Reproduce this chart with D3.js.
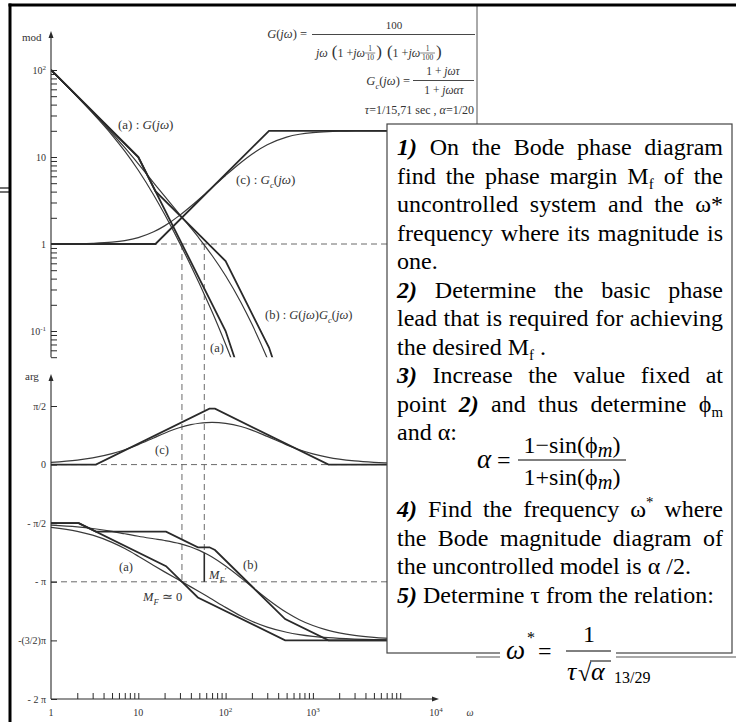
<!DOCTYPE html>
<html><head><meta charset="utf-8">
<script src="https://cdn.jsdelivr.net/npm/d3@7"></script>
<style>body{margin:0;background:#fff}svg{display:block}</style>
</head><body>
<svg id="c" width="736" height="722"></svg>
<script>
// ---------------- DATA ----------------
const omega = [1,2,3,5,7,10,15,20,30,40,50,60,70,100,150,200,300,500,700,1000,1500,2000,3000,5000,10000,25000];
const magG   = [99.5,49.03,31.93,17.89,11.67,7.036,3.657,2.193,1.010,0.563,0.351,0.235,0.166,0.0704,0.0246,0.0112,0.00351,null,null,null,null,null,null,null,null,null];
const magGc  = [1.002,1.008,1.018,1.049,1.095,1.185,1.381,1.616,2.146,2.714,3.295,3.878,4.457,6.140,8.666,10.77,13.83,16.94,18.25,19.08,19.58,19.76,19.89,19.97,19.99,20.0];
const magGGc = [99.7,49.42,32.5,18.76,12.78,8.338,5.05,3.544,2.167,1.528,1.156,0.911,0.738,0.432,0.213,0.120,0.0486,0.0133,0.00527,null,null,null,null,null,null,null];
const phG    = [-96.28,-102.46,-108.42,-119.43,-128.99,-140.71,-154.84,-164.74,-178.27,-187.76,-195.26,-201.5,-206.86,-219.29,-232.5,-240.57,-249.66,-257.54,-261.05,-263.72,-265.81,-266.85,-267.9,-268.74,-269.37,-269.75];
const phGc   = [3.46,6.89,10.26,16.75,22.75,30.66,40.95,48.21,56.91,61.3,63.52,64.52,64.79,63.41,58.5,53.03,43.32,30.35,22.88,16.54,11.23,8.48,5.68,3.42,1.71,0.69];
const phGGc  = [-92.82,-95.57,-98.16,-102.68,-106.24,-110.05,-113.89,-116.53,-121.36,-126.46,-131.74,-136.98,-142.07,-155.88,-174.0,-187.54,-206.34,-227.19,-238.17,-247.18,-254.58,-258.37,-262.22,-265.32,-267.66,-269.06];

// asymptotes (break points)
const asMagAw = [1,10,100,1000],              asMagA = [100,10,0.1,0.0001];
const asMagCw = [1,15.71,314.2,25000],        asMagC = [1,1,20,20];
const asMagBw = [1,10,15.71,100,314.2,1000],  asMagB = [100,10,4.052,0.6366,0.06448,0.002];
const asPhAw  = [1,2.079,20.79,48.1,481,25000], asPhA = [-90,-90,-155.96,-204.03,-270,-270];
const asPhCw  = [1,3.266,65.32,75.56,1511,25000], asPhC = [0,0,85.82,85.82,0,0];
const asPhBw  = [1,2.079,3.266,20.79,48.1,65.32,75.56,481,1511,25000];
const asPhB   = [-90,-90,-102.94,-102.94,-126.98,-126.98,-131.15,-237.21,-270,-270];

// crossover frequencies and margin point
const wCrossG = 31.62, wCrossB = 57, phAtCrossB = -135.4;

// tick labels
const xTickVals = [1,10,100,1000,10000];
const xTickBase = ["1","10","10","10","10"], xTickExp = ["","","2","3","4"];
const magTickVals = [0.1,1,10,100];
const magTickBase = ["10","1","10","10"], magTickExp = ["-1","","","2"];
const phTickVals = [90,0,-90,-180,-270,-360];
const phTickLabels = ["\u03c0/2","0","- \u03c0/2","- \u03c0","-(3/2)\u03c0","- 2 \u03c0"];

// ---------------- SCALES ----------------
const svg = d3.select("#c");
const x  = d3.scaleLog().domain([1,1e4]).range([51,400.2]);
const yM = d3.scaleLog().domain([0.1,100]).range([331,70]);
const yP = d3.scaleLinear().domain([-360,90]).range([699,406]);
const INK = "#2a2a2a", TXT = "#333";

svg.append("rect").attr("width",736).attr("height",722).attr("fill","#fff");

const defs = svg.append("defs");
defs.append("clipPath").attr("id","clipM").append("rect").attr("x",51).attr("y",28).attr("width",430).attr("height",329.3);
defs.append("clipPath").attr("id","clipP").append("rect").attr("x",51).attr("y",380).attr("width",430).attr("height",320);

const fig = svg.append("g");

// dashed reference lines
const dash = fig.append("g").attr("stroke","#6a6a6a").attr("stroke-width",1).attr("stroke-dasharray","6,4").attr("fill","none");
dash.append("line").attr("x1",51).attr("x2",480).attr("y1",yM(1)).attr("y2",yM(1));
dash.append("line").attr("x1",51).attr("x2",480).attr("y1",yP(0)).attr("y2",yP(0));
dash.append("line").attr("x1",51).attr("x2",480).attr("y1",yP(-180)).attr("y2",yP(-180));
dash.append("line").attr("x1",x(wCrossG)).attr("x2",x(wCrossG)).attr("y1",yM(1)).attr("y2",yP(-180));
dash.append("line").attr("x1",x(wCrossB)).attr("x2",x(wCrossB)).attr("y1",yM(1)).attr("y2",yP(phAtCrossB));
fig.append("line").attr("x1",x(wCrossB)).attr("x2",x(wCrossB)).attr("y1",yP(phAtCrossB)).attr("y2",yP(-180))
   .attr("stroke",INK).attr("stroke-width",1.6);

// lines
const zip = (w,v)=>w.map((d,i)=>[d,v[i]]);
const smoothM = d3.line().defined(d=>d[1]!=null).x(d=>x(d[0])).y(d=>yM(d[1])).curve(d3.curveMonotoneX);
const smoothP = d3.line().x(d=>x(d[0])).y(d=>yP(d[1])).curve(d3.curveMonotoneX);
const straightM = d3.line().x(d=>x(d[0])).y(d=>yM(d[1]));
const straightP = d3.line().x(d=>x(d[0])).y(d=>yP(d[1]));

const gM = fig.append("g").attr("clip-path","url(#clipM)").attr("fill","none");
[magG,magGc,magGGc].forEach(v=>gM.append("path").attr("d",smoothM(zip(omega,v))).attr("stroke","#3a3a3a").attr("stroke-width",1.2));
[[asMagAw,asMagA],[asMagCw,asMagC],[asMagBw,asMagB]].forEach(([w,v])=>gM.append("path").attr("d",straightM(zip(w,v))).attr("stroke",INK).attr("stroke-width",1.8));

const gP = fig.append("g").attr("clip-path","url(#clipP)").attr("fill","none");
[phG,phGc,phGGc].forEach(v=>gP.append("path").attr("d",smoothP(zip(omega,v))).attr("stroke","#3a3a3a").attr("stroke-width",1.2));
[[asPhAw,asPhA],[asPhCw,asPhC],[asPhBw,asPhB]].forEach(([w,v])=>gP.append("path").attr("d",straightP(zip(w,v))).attr("stroke",INK).attr("stroke-width",1.8));

// axes
const ax = fig.append("g").attr("stroke",INK).attr("stroke-width",1.1);
ax.append("line").attr("x1",51).attr("x2",51).attr("y1",yM(0.05)).attr("y2",36);
ax.append("line").attr("x1",51).attr("x2",51).attr("y1",699).attr("y2",379);
ax.append("line").attr("x1",51).attr("x2",434).attr("y1",699).attr("y2",699);
fig.append("path").attr("d","M51,31 L48.5,38 L53.5,38 Z").attr("fill",INK);
fig.append("path").attr("d","M51,374 L48.5,381 L53.5,381 Z").attr("fill",INK);
fig.append("path").attr("d","M439,699 L432,696.5 L432,701.5 Z").attr("fill",INK);

const minorMag = [];
[0.01,0.1,1,10].forEach(d=>d3.range(1,10).forEach(k=>{const v=+(d*k).toPrecision(3); if(v>=0.05&&v<=100) minorMag.push(v);}));
minorMag.push(100);
const magAxis = d3.axisRight(yM).tickValues(minorMag).tickSize(6).tickFormat("");
const gma = fig.append("g").attr("transform","translate(51,0)").call(magAxis);
gma.select(".domain").remove();
gma.selectAll("line").attr("stroke",INK).attr("stroke-width",1);

const phAxis = d3.axisRight(yP).tickValues(phTickVals).tickSize(6).tickFormat("");
const gpa = fig.append("g").attr("transform","translate(51,0)").call(phAxis);
gpa.select(".domain").remove();
gpa.selectAll("line").attr("stroke",INK).attr("stroke-width",1);

const minorX = [];
[1,10,100,1000].forEach(d=>d3.range(2,11).forEach(k=>minorX.push(d*k)));
const xAxis = d3.axisTop(x).tickValues(minorX).tickSize(6).tickFormat("");
const gxa = fig.append("g").attr("transform","translate(0,699)").call(xAxis);
gxa.select(".domain").remove();
gxa.selectAll("line").attr("stroke",INK).attr("stroke-width",1);

// axis labels
const lab = fig.append("g").attr("font-family","Liberation Serif").attr("fill",TXT).attr("font-size",10);
magTickVals.forEach((v,i)=>{
  const t = lab.append("text").attr("x",46).attr("y",yM(v)+3.5).attr("text-anchor","end").text(magTickBase[i]);
  if(magTickExp[i]) t.append("tspan").attr("font-size",7).attr("dy",-4).text(magTickExp[i]);
});
phTickVals.forEach((v,i)=>{
  lab.append("text").attr("x",46).attr("y",yP(v)+3.5).attr("text-anchor","end").text(phTickLabels[i]);
});
xTickVals.forEach((v,i)=>{
  const xx = i===4 ? 436 : x(v);
  const t = lab.append("text").attr("x",xx).attr("y",716).attr("text-anchor","middle").text(xTickBase[i]);
  if(xTickExp[i]) t.append("tspan").attr("font-size",7).attr("dy",-4).text(xTickExp[i]);
});
lab.append("text").attr("x",470).attr("y",716).attr("text-anchor","middle").attr("font-style","italic").text("\u03c9");
lab.append("text").attr("x",22).attr("y",41).attr("font-size",11).text("mod");
lab.append("text").attr("x",25).attr("y",380).attr("font-size",11).text("arg");

// mixed-style text helper
function mtext(g,xp,yp,parts,size,anchor){
  const t = g.append("text").attr("x",xp).attr("y",yp).attr("font-size",size).attr("text-anchor",anchor||"start");
  let off=0;
  parts.forEach(p=>{
    const ts=t.append("tspan").text(p[0]);
    const st=p[1]||"";
    if(st.includes("i")) ts.attr("font-style","italic");
    let tgt=0;
    if(st.includes("s")){ ts.attr("font-size",size*0.68); tgt=size*0.28; }
    if(st.includes("m")){ ts.attr("font-size",size*0.85); tgt=size*0.18; }
    if(st.includes("u")){ ts.attr("font-size",size*0.68); tgt=-size*0.4; }
    if(tgt!==off){ ts.attr("dy",tgt-off); off=tgt; }
  });
  return t;
}
const cl = fig.append("g").attr("font-family","Liberation Serif").attr("fill",TXT);
mtext(cl,118,129,[["(a) : "],["G","i"],["("],["j\u03c9","i"],[")"]],13);
mtext(cl,236,184,[["(c) : "],["G","i"],["c","is"],["("],["j\u03c9","i"],[")"]],13);
mtext(cl,265,319,[["(b) : "],["G","i"],["("],["j\u03c9","i"],[")"],["G","i"],["c","is"],["("],["j\u03c9","i"],[")"]],12.5);
mtext(cl,210,352,[["(a)"]],12.5);
mtext(cl,155,454,[["(c)"]],12.5);
mtext(cl,119,571,[["(a)"]],12.5);
mtext(cl,243,569,[["(b)"]],12.5);
mtext(cl,209,579,[["M","i"],["F","is"],["\u2032","u"]],12.5);
mtext(cl,143,601,[["M","i"],["F","is"],[" \u2243 0"]],12.5);

// top formulas
const tf = fig.append("g").attr("font-family","Liberation Serif").attr("fill",TXT);
mtext(tf,307,38,[["G","i"],["("],["j\u03c9","i"],[") ="]],12.5,"end");
tf.append("line").attr("x1",312).attr("x2",475).attr("y1",34.5).attr("y2",34.5).attr("stroke",TXT).attr("stroke-width",0.9);
tf.append("text").attr("x",394).attr("y",29).attr("text-anchor","middle").attr("font-size",11).text("100");
{
  let cx = 316; const by = 57;
  const seg=(s,st,size)=>{ const t=tf.append("text").attr("x",cx).attr("y",by).attr("font-size",size||12).text(s); if(st) t.attr("font-style","italic"); cx+=t.node().getComputedTextLength(); };
  const frac=(n,d)=>{ const w=Math.max(n.length,d.length)*4.6+1;
    tf.append("text").attr("x",cx+w/2).attr("y",by-6).attr("text-anchor","middle").attr("font-size",7.5).text(n);
    tf.append("text").attr("x",cx+w/2).attr("y",by+2.5).attr("text-anchor","middle").attr("font-size",7.5).text(d);
    tf.append("line").attr("x1",cx).attr("x2",cx+w).attr("y1",by-4).attr("y2",by-4).attr("stroke",TXT).attr("stroke-width",0.6);
    cx+=w+1; };
  seg("j\u03c9",1); cx+=4; seg("(",0,17); seg("1 + "); seg("j\u03c9",1); frac("1","10"); seg(")",0,17); cx+=5;
  seg("(",0,17); seg("1 + "); seg("j\u03c9",1); frac("1","100"); seg(")",0,17);
}
mtext(tf,410,85,[["G","i"],["c","is"],["("],["j\u03c9","i"],[") ="]],12.5,"end");
mtext(tf,443,75,[["1 + "],["j\u03c9\u03c4","i"]],11.5,"middle");
tf.append("line").attr("x1",413).attr("x2",474).attr("y1",80.5).attr("y2",80.5).attr("stroke",TXT).attr("stroke-width",0.9);
mtext(tf,444,94,[["1 + "],["j\u03c9\u03b1\u03c4","i"]],11.5,"middle");
mtext(tf,474,114,[["\u03c4","i"],["=1/15,71 "],["sec"],[" , "],["\u03b1","i"],["=1/20"]],12,"end");

// frame of the scanned figure and slide
svg.append("line").attr("x1",477).attr("x2",477).attr("y1",5).attr("y2",124).attr("stroke","#555").attr("stroke-width",1);
svg.append("line").attr("x1",0).attr("x2",10).attr("y1",188).attr("y2",188).attr("stroke","#111").attr("stroke-width",1.2);
svg.append("line").attr("x1",0).attr("x2",10).attr("y1",192).attr("y2",192).attr("stroke","#111").attr("stroke-width",1.2);
svg.append("line").attr("x1",8.5).attr("x2",736).attr("y1",5).attr("y2",5).attr("stroke","#000").attr("stroke-width",3);
svg.append("line").attr("x1",10).attr("x2",10).attr("y1",3.5).attr("y2",722).attr("stroke","#000").attr("stroke-width",3);

// ---------------- TEXT BOX ----------------
svg.append("rect").attr("x",387).attr("y",124).attr("width",345).attr("height",529).attr("fill","#fff").attr("stroke","#444").attr("stroke-width",1.2);

const box = svg.append("g").attr("font-family","Liberation Serif").attr("fill","#000");
const boxLines = [
  {t:"{1)} On the Bode phase diagram", j:1, y:155},
  {t:"find the phase margin M_f of the", j:1, y:183.5},
  {t:"uncontrolled system and the \u03c9*", j:1, y:212},
  {t:"frequency where its magnitude is", j:1, y:240.5},
  {t:"one.", j:0, y:269},
  {t:"{2)} Determine the basic phase", j:1, y:297.5},
  {t:"lead that is required for achieving", j:1, y:326},
  {t:"the desired M_f .", j:0, y:354.5},
  {t:"{3)} Increase the value fixed at", j:1, y:383},
  {t:"point {2)} and thus determine \u03d5_m", j:1, y:411.5},
  {t:"and \u03b1:", j:0, y:440},
  {t:"{4)} Find the frequency \u03c9^* where", j:1, y:517},
  {t:"the Bode magnitude diagram of", j:1, y:545.5},
  {t:"the uncontrolled model is \u03b1 /2.", j:0, y:574},
  {t:"{5)} Determine \u03c4 from the relation:", j:0, y:602.5}
];
function parseWord(w){
  const segs=[]; let i=0, buf="";
  const flush=()=>{ if(buf){segs.push({t:buf,s:"n"}); buf="";} };
  while(i<w.length){
    const c=w[i];
    if(c==="{"){ flush(); const j=w.indexOf("}",i); segs.push({t:w.slice(i+1,j),s:"bi"}); i=j+1; }
    else if(c==="_"){ flush(); segs.push({t:w[i+1],s:"sub"}); i+=2; }
    else if(c==="^"){ flush(); segs.push({t:w[i+1],s:"sup"}); i+=2; }
    else { buf+=c; i++; }
  }
  flush(); return segs;
}
function drawSegs(g,segs,size,y){
  const t=g.append("text").attr("font-size",size).attr("y",y);
  let off=0;
  segs.forEach(s=>{
    const ts=t.append("tspan").text(s.t);
    let tgt=0;
    if(s.s==="bi") ts.attr("font-weight","bold").attr("font-style","italic");
    if(s.s==="sub"){ ts.attr("font-size",size*0.62); tgt=size*0.22; }
    if(s.s==="sup"){ ts.attr("font-size",size*0.62); tgt=-size*0.42; }
    if(tgt!==off){ ts.attr("dy",tgt-off); off=tgt; }
  });
  return t;
}
const X0 = 397, W = 326;
boxLines.forEach(L=>{
  const words=L.t.split(" ").map(parseWord);
  const els=words.map(ws=>drawSegs(box,ws,24,L.y));
  const widths=els.map(e=>e.node().getComputedTextLength());
  const sum=d3.sum(widths);
  const gap=L.j ? (W-sum)/(words.length-1) : 6;
  let cx=X0;
  els.forEach((e,i)=>{ e.attr("x",cx); cx+=widths[i]+gap; });
});

// alpha formula
const fm = svg.append("g").attr("font-family","Liberation Serif").attr("fill","#000");
fm.append("text").attr("x",477).attr("y",468).attr("font-size",27).attr("font-style","italic").text("\u03b1");
fm.append("text").attr("x",497).attr("y",468).attr("font-size",24).text("=");
mtext(fm,572,453,[["1\u2212sin(\u03d5"],["m","im"],[")"]],24,"middle");
fm.append("line").attr("x1",518).attr("x2",626).attr("y1",460).attr("y2",460).attr("stroke","#000").attr("stroke-width",1);
mtext(fm,572,485,[["1+sin(\u03d5"],["m","im"],[")"]],24,"middle");

// slide rule, then omega* formula with white background over the rules
svg.append("line").attr("x1",476).attr("x2",736).attr("y1",657).attr("y2",657).attr("stroke","#555").attr("stroke-width",1);
svg.append("rect").attr("x",500).attr("y",644).attr("width",116).attr("height",19).attr("fill","#fff");
const fw = svg.append("g").attr("font-family","Liberation Serif").attr("fill","#000");
fw.append("text").attr("x",506).attr("y",659).attr("font-size",27).attr("font-style","italic").text("\u03c9");
fw.append("text").attr("x",527).attr("y",643).attr("font-size",16).text("*");
fw.append("text").attr("x",538).attr("y",659).attr("font-size",24).text("=");
fw.append("text").attr("x",589).attr("y",642).attr("font-size",24).attr("text-anchor","middle").text("1");
fw.append("line").attr("x1",566).attr("x2",611).attr("y1",651).attr("y2",651).attr("stroke","#000").attr("stroke-width",1);
fw.append("text").attr("x",567).attr("y",680).attr("font-size",26).attr("font-style","italic").text("\u03c4");
fw.append("text").attr("x",578).attr("y",681).attr("font-size",24).text("\u221a");
fw.append("line").attr("x1",590).attr("x2",611).attr("y1",661).attr("y2",661).attr("stroke","#000").attr("stroke-width",1);
fw.append("text").attr("x",591).attr("y",680).attr("font-size",26).attr("font-style","italic").text("\u03b1");
fw.append("text").attr("x",614).attr("y",683).attr("font-size",16).text("13/29");
</script>
</body></html>
